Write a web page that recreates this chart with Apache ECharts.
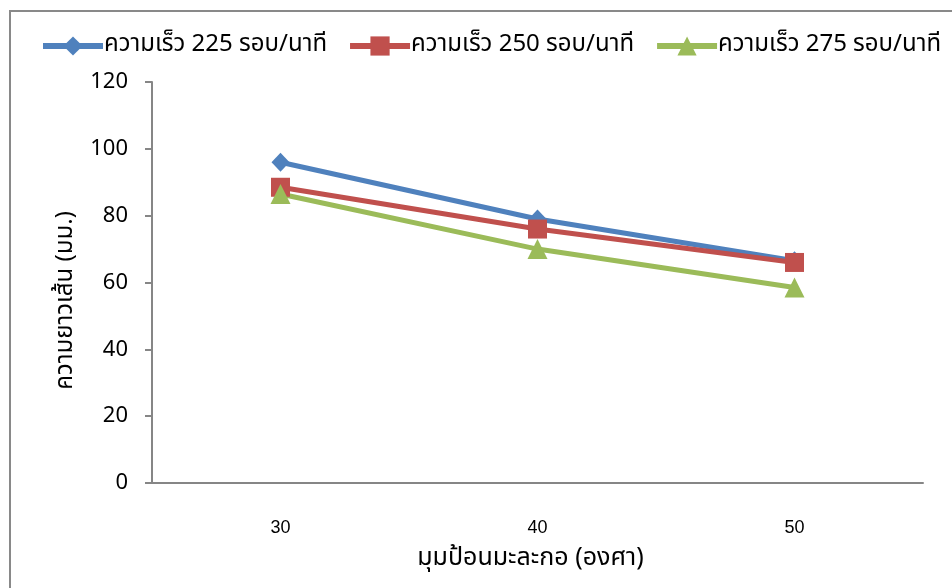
<!DOCTYPE html>
<html>
<head>
<meta charset="utf-8">
<script src="https://cdn.jsdelivr.net/npm/echarts@6/dist/echarts.min.js"></script>
<style>
  html, body { margin: 0; padding: 0; background: #ffffff; }
  #chart { width: 952px; height: 588px; }
</style>
</head>
<body>
<div id="chart"></div>
<script>
// Feed angle (degrees) on the x axis
const angles = ['30', '40', '50'];
// Strip length (mm) at each rotor speed
const speed225 = [96, 79, 66.5];
const speed250 = [88.5, 76, 66];
const speed275 = [86.5, 70, 58.5];
const seriesNames = ['ความเร็ว 225 รอบ/นาที', 'ความเร็ว 250 รอบ/นาที', 'ความเร็ว 275 รอบ/นาที'];
const yTicks = { min: 0, max: 120, interval: 20 };

const thaiFont = '"Noto Sans Thai", "Noto Sans", "DejaVu Sans", sans-serif';
const numFont = '"Noto Sans", "Open Sans", sans-serif';

const chart = echarts.init(document.getElementById('chart'), null, { renderer: 'canvas' });

function lineSeries(name, data, color, symbol, size) {
  return {
    name: name,
    type: 'line',
    data: data,
    symbol: symbol,
    symbolSize: size,
    lineStyle: { color: color, width: 5 },
    itemStyle: { color: color },
    z: 2
  };
}

chart.setOption({
  animation: false,
  backgroundColor: '#ffffff',
  graphic: [{
    type: 'rect',
    shape: { x: 10, y: 11, width: 960, height: 600 },
    style: { fill: 'none', stroke: '#898989', lineWidth: 2 },
    silent: true
  }],
  legend: {
    left: 40,
    top: 34,
    padding: 0,
    itemWidth: 60,
    itemHeight: 24,
    itemGap: 20,
    lineStyle: { width: 6 },
    textStyle: { fontFamily: thaiFont, fontSize: 24, color: '#000000', padding: [0, 0, 0, -4] },
    data: seriesNames
  },
  grid: { left: 152, top: 82, right: 29, bottom: 105 },
  xAxis: {
    type: 'category',
    data: angles,
    boundaryGap: true,
    name: 'มุมป้อนมะละกอ (องศา)',
    nameLocation: 'middle',
    nameGap: 64,
    nameTextStyle: { fontFamily: thaiFont, fontSize: 25, color: '#000000', padding: [0, 14, 0, 0] },
    axisLine: { lineStyle: { color: '#868686', width: 2 } },
    axisTick: { show: false },
    axisLabel: { margin: 36, fontFamily: '"Liberation Sans", Arial, sans-serif', fontSize: 18, color: '#000000' },
    splitLine: { show: false }
  },
  yAxis: {
    type: 'value',
    min: yTicks.min,
    max: yTicks.max,
    interval: yTicks.interval,
    name: 'ความยาวเส้น (มม.)',
    nameLocation: 'middle',
    nameRotate: 90,
    nameGap: 70,
    nameTextStyle: { fontFamily: thaiFont, fontSize: 24, color: '#000000', padding: [0, 36, 0, 0] },
    axisLine: { show: true, lineStyle: { color: '#868686', width: 2 } },
    axisTick: { show: true, inside: false, length: 7, lineStyle: { color: '#868686', width: 2 } },
    axisLabel: { margin: 24, fontFamily: numFont, fontSize: 22, color: '#000000' },
    splitLine: { show: false }
  },
  series: [
    lineSeries(seriesNames[0], speed225, '#4F81BD', 'diamond', [18, 19]),
    lineSeries(seriesNames[1], speed250, '#C0504D', 'rect', 19),
    lineSeries(seriesNames[2], speed275, '#9BBB59', 'triangle', 20)
  ]
});
</script>
</body>
</html>
